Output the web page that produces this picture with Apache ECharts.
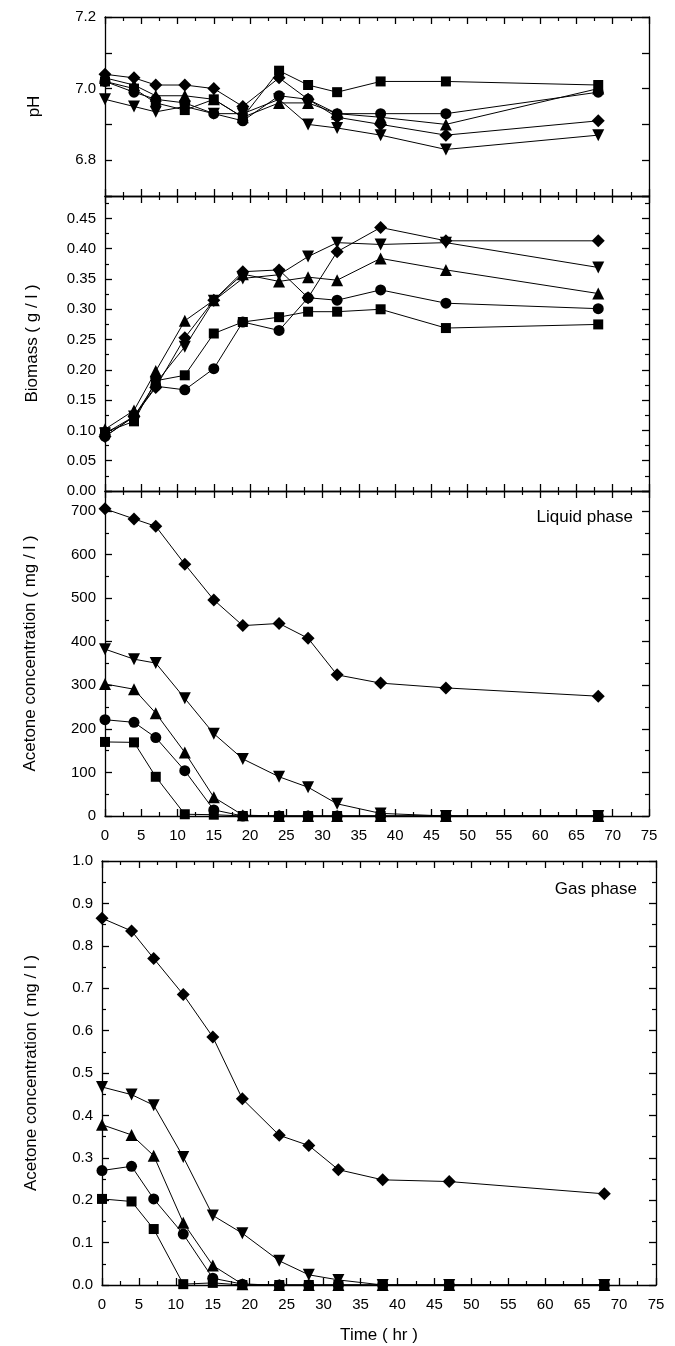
<!DOCTYPE html>
<html>
<head>
<meta charset="utf-8">
<title>Acetone degradation</title>
<script src="https://cdn.jsdelivr.net/npm/echarts@6/dist/echarts.min.js"></script>
<style>
  html, body { margin: 0; padding: 0; background: #fff; }
  #chart { width: 675px; height: 1346px; }
</style>
</head>
<body>
<div id="chart"></div>
<script>
// sampling times (hr)
const hours = [0, 4, 7, 11, 15, 19, 24, 28, 32, 38, 47, 68];

// pH
const phSquare = [7.02, 7.00, 6.96, 6.94, 6.97, 6.92, 7.05, 7.01, 6.99, 7.02, 7.02, 7.01];
const phCircle = [7.02, 6.99, 6.97, 6.96, 6.93, 6.91, 6.98, 6.97, 6.93, 6.93, 6.93, 6.99];
const phTriangle = [7.03, 7.01, 6.98, 6.98, 6.97, 6.92, 6.96, 6.96, 6.93, 6.92, 6.90, 7.00];
const phDown = [6.97, 6.95, 6.935, 6.95, 6.93, 6.93, 6.97, 6.90, 6.89, 6.87, 6.83, 6.87];
const phDiamond = [7.04, 7.03, 7.01, 7.01, 7.00, 6.95, 7.03, 6.97, 6.92, 6.90, 6.87, 6.91];

// biomass (g/l)
const bmSquare = [0.097, 0.115, 0.182, 0.191, 0.260, 0.279, 0.287, 0.296, 0.296, 0.300, 0.269, 0.275];
const bmCircle = [0.090, 0.123, 0.173, 0.167, 0.202, 0.279, 0.265, 0.319, 0.315, 0.332, 0.310, 0.301];
const bmTriangle = [0.102, 0.133, 0.198, 0.281, 0.315, 0.358, 0.346, 0.353, 0.348, 0.384, 0.365, 0.326];
const bmDown = [0.095, 0.123, 0.178, 0.238, 0.314, 0.351, 0.357, 0.387, 0.410, 0.407, 0.410, 0.369];
const bmDiamond = [0.090, 0.123, 0.171, 0.253, 0.315, 0.362, 0.365, 0.319, 0.395, 0.435, 0.413, 0.413];

// acetone, liquid phase (mg/l)
const liqSquare = [170, 169, 90, 4, 3, 0, 0, 0, 0, 0, 0, 0];
const liqCircle = [221, 215, 180, 104, 14, 0, 0, 0, 0, 0, 0, 0];
const liqTriangle = [303, 291, 236, 146, 43, 2, 0, 0, 0, 0, 0, 0];
const liqDown = [383, 360, 351, 270, 189, 131, 90, 66, 28, 6, 0, 0];
const liqDiamond = [705, 682, 665, 578, 496, 437, 442, 408, 324, 305, 294, 275];

// acetone, gas phase (mg/l)
const gasSquare = [0.203, 0.197, 0.132, 0.002, 0.005, 0, 0, 0, 0, 0, 0, 0];
const gasCircle = [0.270, 0.280, 0.203, 0.120, 0.016, 0.002, 0, 0, 0, 0, 0, 0];
const gasTriangle = [0.378, 0.354, 0.305, 0.147, 0.046, 0.002, 0, 0, 0, 0, 0, 0];
const gasDown = [0.467, 0.449, 0.424, 0.302, 0.164, 0.122, 0.057, 0.024, 0.012, 0, 0, 0];
const gasDiamond = [0.865, 0.835, 0.770, 0.685, 0.585, 0.439, 0.353, 0.329, 0.272, 0.248, 0.244, 0.215];

const FONT = "Liberation Sans";
const black = "#000";

const chart = echarts.init(document.getElementById("chart"));

const grids = [
  { left: 105, right: 26, top: 17, height: 179 },
  { left: 105, right: 26, top: 196, height: 295 },
  { left: 105, right: 26, top: 491, height: 325 },
  { left: 102, right: 19, top: 861, height: 424 },
];

const lineStyle = { color: black, width: 1.3 };

function xAxes(i, showLabel) {
  const base = {
    gridIndex: i,
    type: "value",
    min: 0,
    max: 75,
    interval: 5,
    axisLine: { onZero: false, lineStyle: lineStyle },
    axisTick: { inside: true, length: 7, lineStyle: lineStyle },
    minorTick: { show: true, splitNumber: 2, length: 4, lineStyle: { color: black, width: 1.2 } },
    splitLine: { show: false },
  };
  const bottom = Object.assign({}, base, {
    position: "bottom",
    axisLabel: { show: showLabel, color: black, fontFamily: FONT, fontSize: 15, margin: 12 },
  });
  if (i === 3) {
    bottom.name = "Time ( hr )";
    bottom.nameLocation = "middle";
    bottom.nameGap = 42;
    bottom.nameTextStyle = { color: black, fontFamily: FONT, fontSize: 17 };
  }
  const top = Object.assign({}, base, { position: "top", axisLabel: { show: false } });
  return [bottom, top];
}

function yAxes(i, cfg) {
  const base = {
    gridIndex: i,
    type: "value",
    min: cfg.min,
    max: cfg.max,
    interval: cfg.interval,
    axisLine: { onZero: false, lineStyle: lineStyle },
    axisTick: { inside: true, length: 7, lineStyle: lineStyle },
    minorTick: { show: cfg.minor, splitNumber: 2, length: 4, lineStyle: { color: black, width: 1.2 } },
    splitLine: { show: false },
  };
  const left = Object.assign({}, base, {
    position: "left",
    name: cfg.name,
    nameLocation: "middle",
    nameGap: cfg.nameGap,
    nameTextStyle: { color: black, fontFamily: FONT, fontSize: 17 },
    axisLabel: {
      color: black,
      fontFamily: FONT,
      fontSize: 15,
      margin: 9,
      formatter: cfg.formatter,
    },
  });
  const right = Object.assign({}, base, { position: "right", axisLabel: { show: false } });
  return [left, right];
}

function onStep(step, digits, from) {
  return function (v) {
    const k = (v - from) / step;
    if (Math.abs(k - Math.round(k)) > 1e-6) return "";
    return v.toFixed(digits);
  };
}

const xAxis = [].concat(xAxes(0, false), xAxes(1, false), xAxes(2, true), xAxes(3, true));
const yAxis = [].concat(
  yAxes(0, { min: 6.7, max: 7.2, interval: 0.1, minor: false, name: "pH", nameGap: 62,
    formatter: onStep(0.2, 1, 6.8) }),
  yAxes(1, { min: 0, max: 0.487, interval: 0.05, minor: true, name: "Biomass ( g / l )", nameGap: 64,
    formatter: onStep(0.05, 2, 0) }),
  yAxes(2, { min: 0, max: 746, interval: 100, minor: true, name: "Acetone concentration ( mg / l )", nameGap: 66,
    formatter: onStep(100, 0, 0) }),
  yAxes(3, { min: 0, max: 1.0, interval: 0.1, minor: true, name: "Acetone concentration ( mg / l )", nameGap: 62,
    formatter: onStep(0.1, 1, 0) })
);

const markers = [
  { symbol: "rect", size: 10, rotate: 0 },
  { symbol: "circle", size: 11, rotate: 0 },
  { symbol: "triangle", size: 12, rotate: 0 },
  { symbol: "triangle", size: 12, rotate: 180 },
  { symbol: "diamond", size: 13, rotate: 0 },
];

const panels = [
  [phSquare, phCircle, phTriangle, phDown, phDiamond],
  [bmSquare, bmCircle, bmTriangle, bmDown, bmDiamond],
  [liqSquare, liqCircle, liqTriangle, liqDown, liqDiamond],
  [gasSquare, gasCircle, gasTriangle, gasDown, gasDiamond],
];

const series = [];
panels.forEach((sets, i) => {
  sets.forEach((vals, j) => {
    const m = markers[j];
    series.push({
      type: "line",
      xAxisIndex: i * 2,
      yAxisIndex: i * 2,
      data: hours.map((h, k) => [h, vals[k]]),
      symbol: m.symbol,
      symbolSize: m.size,
      symbolRotate: m.rotate,
      showAllSymbol: true,
      lineStyle: { color: black, width: 1 },
      itemStyle: { color: black },
      animation: false,
      z: 3,
    });
  });
});

chart.setOption({
  backgroundColor: "#fff",
  animation: false,
  grid: grids,
  xAxis: xAxis,
  yAxis: yAxis,
  title: [
    { text: "Liquid phase", right: 37, top: 504,
      textStyle: { color: black, fontFamily: FONT, fontSize: 17, fontWeight: "normal" } },
    { text: "Gas phase", right: 33, top: 876,
      textStyle: { color: black, fontFamily: FONT, fontSize: 17, fontWeight: "normal" } },
  ],
  series: series,
});
</script>
</body>
</html>
